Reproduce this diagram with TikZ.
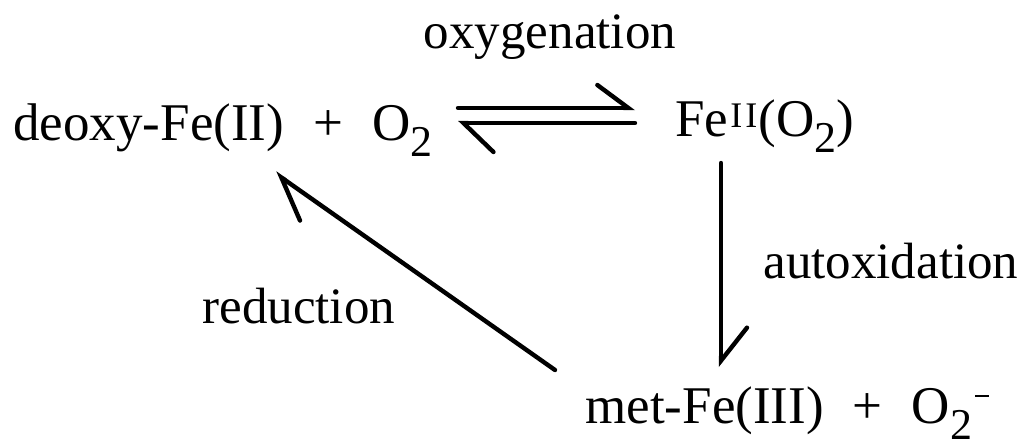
\documentclass[tikz,border=0pt]{standalone}
\usepackage{fontspec}
\setmainfont{Liberation Serif}
\usetikzlibrary{arrows.meta}
\newcommand\sbs[1]{\raisebox{-8pt}{\fontsize{22}{22}\selectfont #1}}
\newcommand\sps[1]{\raisebox{4.5pt}{\fontsize{18}{18}\selectfont #1}}
\newcommand\minussup{\kern1.5pt\rule[13pt]{7pt}{0.8pt}}
\tikzset{
  species/.style={inner sep=0pt, anchor=base west, font=\fontsize{26.5}{30}\selectfont},
  lbl/.style={inner sep=0pt, font=\fontsize{25.5}{30}\selectfont},
  rxn/.style={line width=2.2pt, line cap=round, line join=round},
}
\begin{document}
\begin{tikzpicture}[x=0.5pt,y=-0.5pt]
\useasboundingbox (0,0) rectangle (1022,439);
\node[species] (A) at (13,140) {deoxy-Fe(II)\hspace{0.55em}+\hspace{0.55em}O\sbs{2}};
\node[species] (B) at (675,136) {Fe\kern1pt\sps{I\kern1.5pt I}\kern0.5pt(O\sbs{2})};
\node[species] (C) at (585,423) {met-Fe(III)\hspace{0.55em}+\hspace{0.55em}O\sbs{2}\minussup};
\node[lbl, anchor=base] (ox) at (550,48) {oxygenation};
\node[lbl, anchor=base west] (au) at (763,278) {autoxidation};
\node[lbl, anchor=base west] (re) at (202,323) {reduction};
% arrow end points
\coordinate (f1) at (458,108);
\coordinate (f2) at (635,108);
\coordinate (r1) at (635,123);
\coordinate (r2) at (458,123);
\coordinate (v1) at (721,163);
\coordinate (v2) at (721,367);
\coordinate (d1) at (555,370);
\coordinate (d2) at (275,173);
\draw[rxn, -{Straight Barb[harpoon, length=15.5pt, width=23pt, line cap=round]}] (f1) -- (f2);
\draw[rxn, -{Straight Barb[harpoon, length=15pt, width=29pt, line cap=round]}] (r1) -- (r2);
\draw[rxn, -{Straight Barb[harpoon, length=16.5pt, width=26pt, line cap=round]}] (v1) -- (v2);
\draw[rxn, -{Straight Barb[harpoon, length=20pt, width=24.5pt, line cap=round]}] (d1) -- (d2);
\end{tikzpicture}
\end{document}
